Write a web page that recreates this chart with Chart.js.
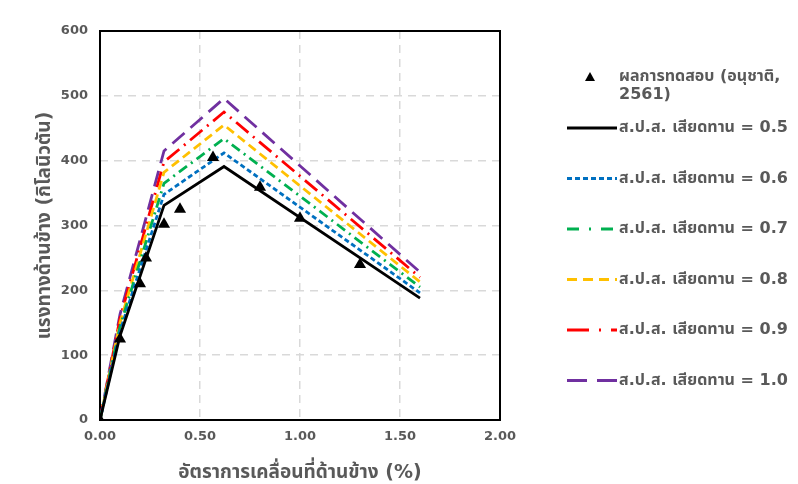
<!DOCTYPE html>
<html>
<head>
<meta charset="utf-8">
<script src="https://cdn.jsdelivr.net/npm/chart.js@4"></script>
<style>
  html, body { margin: 0; padding: 0; background: #fff; }
  #wrap { width: 798px; height: 484px; position: relative; }
</style>
</head>
<body>
<div id="wrap"><canvas id="c" width="798" height="484"></canvas></div>
<script>
'use strict';
// test results (อนุชาติ, 2561)
const testX = [0, 0.1, 0.2, 0.23, 0.32, 0.4, 0.565, 0.8, 1.0, 1.3];
const testY = [0, 125, 210, 250, 302, 325, 405, 359, 311, 240];

// model curves, one per friction coefficient
const modelX = [0, 0.1, 0.32, 0.62, 1.6];
const mu05 = [0, 130, 331, 391, 188];
const mu06 = [0, 137, 348, 412, 196];
const mu07 = [0, 144, 365, 434, 205];
const mu08 = [0, 150, 382, 455, 213];
const mu09 = [0, 157, 398, 475, 220];
const mu10 = [0, 163, 415, 496, 228];

const xTicks = [0, 0.5, 1, 1.5, 2];
const yTicks = [0, 100, 200, 300, 400, 500, 600];

const testLabel = 'ผลการทดสอบ (อนุชาติ, 2561)';
const muLabels = ['ส.ป.ส. เสียดทาน = 0.5', 'ส.ป.ส. เสียดทาน = 0.6', 'ส.ป.ส. เสียดทาน = 0.7',
                  'ส.ป.ส. เสียดทาน = 0.8', 'ส.ป.ส. เสียดทาน = 0.9', 'ส.ป.ส. เสียดทาน = 1.0'];

const FONT = 'Tahoma, Verdana, "DejaVu Sans", "Noto Sans Thai", sans-serif';
const GREY = '#595959';

const pts = (xs, ys) => xs.map((x, i) => ({x, y: ys[i]}));

const styles = [
  {c: '#000000', d: [], ld: []},
  {c: '#0070C0', d: [5, 3], ld: [5, 3]},
  {c: '#00B050', d: [10, 5, 2, 5], ld: [12, 10, 2, 10]},
  {c: '#FFC000', d: [9, 5], ld: [10, 6]},
  {c: '#FF0000', d: [16, 6, 2, 6], ld: [22, 10, 2, 10]},
  {c: '#7030A0', d: [16, 8], ld: [20, 10]}
];

const series = [mu05, mu06, mu07, mu08, mu09, mu10];
const datasets = [{
  label: testLabel,
  data: pts(testX, testY),
  showLine: false,
  pointStyle: 'triangle',
  pointRadius: 7,
  backgroundColor: '#000',
  borderColor: '#000',
  borderWidth: 0
}];
series.forEach((s, i) => datasets.push({
  label: muLabels[i],
  data: pts(modelX, s),
  borderColor: styles[i].c,
  borderWidth: 2.8,
  borderDash: styles[i].d,
  pointRadius: 0,
  fill: false,
  tension: 0,
  _legendDash: styles[i].ld
}));

// black frame round the plot area
const frame = {
  id: 'frame',
  beforeDatasetsDraw(chart) {
    const a = chart.chartArea, ctx = chart.ctx;
    ctx.save();
    ctx.strokeStyle = '#000';
    ctx.lineWidth = 2;
    ctx.strokeRect(a.left, a.top, a.right - a.left, a.bottom - a.top);
    ctx.restore();
  }
};

// legend on the right, drawn by hand
const sideLegend = {
  id: 'sideLegend',
  afterDraw(chart) {
    const ctx = chart.ctx;
    const ds = chart.data.datasets;
    ctx.save();
    ctx.font = 'bold 16px ' + FONT;
    ctx.textBaseline = 'middle';
    const tx = 619;
    // first entry: triangle marker + wrapped text
    ctx.fillStyle = '#000';
    ctx.beginPath();
    ctx.moveTo(590, 72); ctx.lineTo(595, 81); ctx.lineTo(585, 81); ctx.closePath();
    ctx.fill();
    ctx.fillStyle = GREY;
    const words = ds[0].label.split(' ');
    let line = '', lines = [];
    words.forEach(w => {
      const t = line ? line + ' ' + w : w;
      if (ctx.measureText(t).width > 178 && line) { lines.push(line); line = w; } else line = t;
    });
    lines.push(line);
    lines.forEach((l, k) => ctx.fillText(l, tx, 77 + k * 18));
    for (let i = 1; i < ds.length; i++) {
      const y = 128 + (i - 1) * 50.5;
      ctx.strokeStyle = ds[i].borderColor;
      ctx.lineWidth = 2.8;
      ctx.setLineDash(ds[i]._legendDash);
      ctx.beginPath(); ctx.moveTo(567, y); ctx.lineTo(617, y); ctx.stroke();
      ctx.setLineDash([]);
      ctx.fillText(ds[i].label, tx, y);
    }
    ctx.restore();
  }
};

new Chart(document.getElementById('c'), {
  type: 'line',
  data: {datasets},
  options: {
    responsive: false,
    animation: false,
    layout: {padding: {top: 31, right: 298, left: 0, bottom: 0}},
    plugins: {legend: {display: false}, tooltip: {enabled: false}},
    scales: {
      x: {
        type: 'linear', min: 0, max: 2,
        afterBuildTicks: s => { s.ticks = xTicks.map(v => ({value: v})); },
        afterFit: s => { s.height = 64; },
        ticks: {color: GREY, font: {family: FONT, size: 13, weight: 'bold'}, padding: 9,
                callback: v => Number(v).toFixed(2)},
        grid: {color: '#d9d9d9', lineWidth: 1.5, drawTicks: false},
        border: {display: false, dash: [8, 6]},
        title: {display: true, text: 'อัตราการเคลื่อนที่ด้านข้าง (%)', color: GREY,
                font: {family: FONT, size: 19, weight: 'bold'}, padding: {top: 3, bottom: 0}}
      },
      y: {
        type: 'linear', min: 0, max: 600,
        afterBuildTicks: s => { s.ticks = yTicks.map(v => ({value: v})); },
        afterFit: s => { s.width = 100; },
        ticks: {color: GREY, font: {family: FONT, size: 13, weight: 'bold'}, padding: 12},
        grid: {color: '#d9d9d9', lineWidth: 1.5, drawTicks: false},
        border: {display: false, dash: [8, 6]},
        title: {display: true, text: 'แรงทางด้านข้าง (กิโลนิวตัน)', color: GREY,
                font: {family: FONT, size: 19, weight: 'bold'}, padding: {top: 34, bottom: 0}}
      }
    }
  },
  plugins: [frame, sideLegend]
});
</script>
</body>
</html>
